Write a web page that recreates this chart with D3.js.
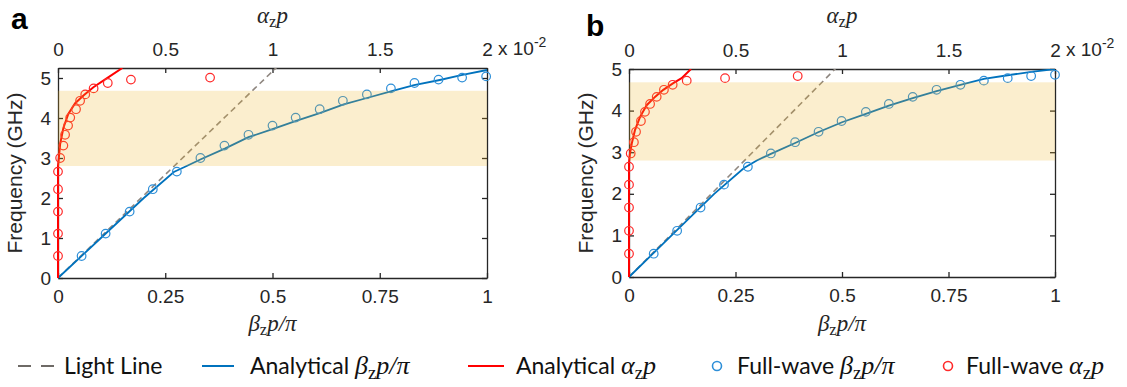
<!DOCTYPE html>
<meta charset="utf-8">
<style>
body { margin: 0; background: #fff; }
svg text { fill: #262626; }
.tick text { font-family: "Liberation Sans", Arial, sans-serif; font-size: 19px; fill: #262626; }
.domain, .tick line { stroke: #262626; stroke-width: 1.3px; }
.math { font-family: "Liberation Serif", "Times New Roman", serif; font-style: italic; }
.leg { font-family: Lato, "Noto Sans", sans-serif; font-size: 23px; fill: #111; }
</style>
<body>
<div id="chart"></div>
<script src="https://cdn.jsdelivr.net/npm/d3@7"></script>
<script>

// full-wave samples, panel a
var betaFWa  = [0.055, 0.111, 0.167, 0.221, 0.277, 0.332, 0.388, 0.444, 0.5, 0.554, 0.61, 0.664, 0.72, 0.776, 0.831, 0.887, 0.942, 0.998];
var freqFWa  = [0.55, 1.11, 1.66, 2.22, 2.66, 3.0, 3.31, 3.58, 3.81, 4.01, 4.22, 4.43, 4.59, 4.74, 4.875, 4.96, 5.01, 5.04];
var alphaFWa = [0, 0, 0, 0, 0, 0.01, 0.025, 0.033, 0.047, 0.057, 0.084, 0.103, 0.127, 0.166, 0.232, 0.34, 0.709];
// analytical, panel a
var betaAna  = [0, 0.1, 0.2, 0.27, 0.3, 0.333, 0.39, 0.444, 0.5, 0.555, 0.61, 0.666, 0.72, 0.78, 0.83, 0.89, 0.94, 1];
var freqAna  = [0, 1.0, 2.0, 2.65, 2.8, 2.97, 3.24, 3.52, 3.72, 3.93, 4.12, 4.34, 4.5, 4.68, 4.82, 4.95, 5.07, 5.2];
var alphaAna = [0, 0, 0.003, 0.01, 0.025, 0.048, 0.08, 0.12, 0.165, 0.227, 0.3];
var fAlphaAna = [0, 2.8, 2.95, 3.35, 3.75, 4.1, 4.37, 4.57, 4.77, 4.99, 5.25];

// full-wave samples, panel b
var betaFWb  = [0.058, 0.113, 0.168, 0.223, 0.279, 0.333, 0.39, 0.445, 0.499, 0.556, 0.61, 0.666, 0.722, 0.778, 0.833, 0.889, 0.944, 1.0];
var freqFWb  = [0.56, 1.11, 1.67, 2.22, 2.65, 2.97, 3.24, 3.49, 3.75, 3.97, 4.16, 4.33, 4.5, 4.62, 4.72, 4.78, 4.83, 4.86];
var alphaFWb = [0, 0, 0, 0, 0, 0.008, 0.023, 0.033, 0.056, 0.075, 0.099, 0.13, 0.164, 0.205, 0.271, 0.451, 0.792];
// analytical, panel b
var betaAnb  = [0, 0.1, 0.2, 0.27, 0.3, 0.333, 0.39, 0.444, 0.5, 0.556, 0.61, 0.666, 0.722, 0.778, 0.833, 0.889, 0.944, 1];
var freqAnb  = [0, 1.0, 2.0, 2.62, 2.8, 2.96, 3.22, 3.48, 3.72, 3.92, 4.12, 4.3, 4.47, 4.62, 4.76, 4.85, 4.93, 5.0];
var alphaAnb = [0, 0, 0.004, 0.013, 0.028, 0.052, 0.083, 0.122, 0.161, 0.208, 0.247, 0.291];
var fAlphaAnb = [0, 2.75, 2.95, 3.21, 3.53, 3.85, 4.13, 4.33, 4.5, 4.66, 4.78, 5.0];

// light line endpoints and stop band
var lightBeta = [0, 0.6];
var lightFreq = [0, 6.2];
var band = [2.8, 4.68];

var betaTicks = [0, 0.25, 0.5, 0.75, 1];
var alphaTicks = [0, 0.5, 1, 1.5, 2];
var freqTicks = [0, 1, 2, 3, 4, 5];

var BLUE = "#0072bd", BLUE_PT = "#2e8fd8", RED = "#ff0000", RED_PT = "#ff2a2a";

var svg = d3.select("#chart").append("svg")
    .attr("width", 1127)
    .attr("height", 387);

function zip(a, b) { return a.map(function(v, i) { return [v, b[i]]; }); }

function mathText(sel, parts, size) {
    // parts: [text, italic?, sub?, undoSub?]
    parts.forEach(function(p) {
        var t = sel.append("tspan").text(p[0]);
        if (p[1]) t.attr("class", "math").style("font-size", size + "px");
        else if (p[2]) t.style("font-family", "Liberation Serif, serif").style("font-style", "normal")
            .style("font-size", (size * 0.72) + "px").attr("dy", size * 0.18);
        if (p[3]) t.attr("dy", -size * 0.18);
    });
}

var BETA_LBL = [["β", 1], ["z", 0, 1], ["p", 1, 0, 1], ["/π", 1]];
var ALPHA_LBL = [["α", 1], ["z", 0, 1], ["p", 1, 0, 1]];

function drawPanel(c) {
    var x = d3.scaleLinear().domain([0, 1]).range([c.left, c.right]);
    var xa = d3.scaleLinear().domain([0, 2]).range([c.left, c.right]);
    var y = d3.scaleLinear().domain([0, c.ymax]).range([c.bottom, c.top]);

    // axes first, data goes over them
    var fmt = function(d) { return d; };
    svg.append("g").attr("transform", "translate(0," + c.bottom + ")")
        .call(d3.axisBottom(x).tickValues(betaTicks).tickSizeInner(-5).tickSizeOuter(0).tickPadding(12)
            .tickFormat(fmt));
    svg.append("g").attr("transform", "translate(0," + c.top + ")")
        .call(d3.axisTop(xa).tickValues(alphaTicks).tickSizeInner(-5).tickSizeOuter(0).tickPadding(12)
            .tickFormat(fmt));
    svg.append("g").attr("transform", "translate(" + c.left + ",0)")
        .call(d3.axisLeft(y).tickValues(freqTicks).tickSizeInner(-5).tickSizeOuter(0).tickPadding(7)
            .tickFormat(fmt));
    svg.append("g").attr("transform", "translate(" + c.right + ",0)")
        .call(d3.axisRight(y).tickValues(freqTicks).tickSizeInner(-5).tickSizeOuter(0)
            .tickFormat(""));

    var clipId = "clip" + c.name;
    svg.append("clipPath").attr("id", clipId).append("rect")
        .attr("x", c.left - 6).attr("y", c.top)
        .attr("width", c.right - c.left + 12).attr("height", c.bottom - c.top + 6);

    var g = svg.append("g").attr("clip-path", "url(#" + clipId + ")");
    var line = d3.line();

    g.append("path")
        .attr("d", line(zip(lightBeta, lightFreq).map(function(d) { return [x(d[0]), y(d[1])]; })))
        .attr("fill", "none").attr("stroke", "#8f8780").attr("stroke-width", 1.6)
        .attr("stroke-dasharray", "6,4");

    g.append("path")
        .attr("d", line(zip(c.betaAn, c.freqAn).map(function(d) { return [x(d[0]), y(d[1])]; })))
        .attr("fill", "none").attr("stroke", BLUE).attr("stroke-width", 1.8);

    g.append("path")
        .attr("d", line(zip(c.alphaAn, c.fAlphaAn).map(function(d) { return [xa(d[0]), y(d[1])]; })))
        .attr("fill", "none").attr("stroke", RED).attr("stroke-width", 2);

    g.selectAll("circle.b")
        .data(zip(c.betaFW, c.freqFW))
        .enter().append("circle")
        .attr("cx", function(d) { return x(d[0]); })
        .attr("cy", function(d) { return y(d[1]); })
        .attr("r", 4.3)
        .attr("fill", "none").attr("stroke", BLUE_PT).attr("stroke-width", 1.2);

    g.selectAll("circle.r")
        .data(zip(c.alphaFW, c.freqFW))
        .enter().append("circle")
        .attr("cx", function(d) { return xa(d[0]); })
        .attr("cy", function(d) { return y(d[1]); })
        .attr("r", 4.3)
        .attr("fill", "none").attr("stroke", RED_PT).attr("stroke-width", 1.2);

    // stop band, translucent over the curves
    svg.append("rect")
        .attr("x", c.left).attr("width", c.right - c.left)
        .attr("y", y(band[1])).attr("height", y(band[0]) - y(band[1]))
        .attr("fill", "#edb120").attr("fill-opacity", 0.22);

    // exponent after the last top tick
    var ex = svg.append("text")
        .attr("x", xa(2) + 11).attr("y", c.top - 13)
        .style("font-family", "Liberation Sans, Arial, sans-serif").style("font-size", "19px");
    ex.append("tspan").text("x 10");
    ex.append("tspan").text("-2").style("font-size", "14px").attr("dy", -8);

    var mid = (c.left + c.right) / 2;
    var t1 = svg.append("text").attr("x", mid).attr("y", 23).attr("text-anchor", "middle")
        .style("font-size", "23px");
    mathText(t1, ALPHA_LBL, 23);
    var t2 = svg.append("text").attr("x", mid).attr("y", 331).attr("text-anchor", "middle")
        .style("font-size", "23px");
    mathText(t2, BETA_LBL, 23);

    svg.append("text")
        .attr("transform", "translate(" + (c.left - 36) + "," + ((c.top + c.bottom) / 2) + ") rotate(-90)")
        .attr("text-anchor", "middle")
        .style("font-family", "Liberation Sans, Arial, sans-serif").style("font-size", "21px")
        .text("Frequency (GHz)");

    svg.append("text")
        .attr("x", c.labelX).attr("y", c.labelY)
        .style("font-family", "Liberation Sans, Arial, sans-serif").style("font-size", "30px")
        .style("font-weight", "bold").style("fill", "#000")
        .text(c.name);
}

drawPanel({
    name: "a", left: 58, right: 487, top: 68, bottom: 278, ymax: 5.25, labelX: 11, labelY: 29,
    betaFW: betaFWa, freqFW: freqFWa, alphaFW: alphaFWa,
    betaAn: betaAna, freqAn: freqAna, alphaAn: alphaAna, fAlphaAn: fAlphaAna
});
drawPanel({
    name: "b", left: 629, right: 1055, top: 69, bottom: 277, ymax: 5, labelX: 586, labelY: 36,
    betaFW: betaFWb, freqFW: freqFWb, alphaFW: alphaFWb,
    betaAn: betaAnb, freqAn: freqAnb, alphaAn: alphaAnb, fAlphaAn: fAlphaAnb
});

// legend
var ly = 366, lt = ly + 8, ms = 26;
var leg = svg.append("g");
leg.append("line").attr("x1", 18).attr("x2", 55).attr("y1", ly).attr("y2", ly)
    .attr("stroke", "#6e6a66").attr("stroke-width", 1.8).attr("stroke-dasharray", "13,10");
leg.append("text").attr("class", "leg").attr("x", 64).attr("y", lt).text("Light Line");

leg.append("line").attr("x1", 202).attr("x2", 234).attr("y1", ly).attr("y2", ly)
    .attr("stroke", BLUE).attr("stroke-width", 2);
var l2 = leg.append("text").attr("class", "leg").attr("x", 250).attr("y", lt);
l2.append("tspan").text("Analytical ");
mathText(l2, BETA_LBL, ms);

leg.append("line").attr("x1", 468).attr("x2", 504).attr("y1", ly).attr("y2", ly)
    .attr("stroke", RED).attr("stroke-width", 2);
var l3 = leg.append("text").attr("class", "leg").attr("x", 516).attr("y", lt);
l3.append("tspan").text("Analytical ");
mathText(l3, ALPHA_LBL, ms);

leg.append("circle").attr("cx", 717).attr("cy", ly).attr("r", 4.5)
    .attr("fill", "none").attr("stroke", BLUE_PT).attr("stroke-width", 1.6);
var l4 = leg.append("text").attr("class", "leg").attr("x", 737).attr("y", lt);
l4.append("tspan").text("Full-wave ");
mathText(l4, BETA_LBL, ms);

leg.append("circle").attr("cx", 948).attr("cy", ly).attr("r", 4.5)
    .attr("fill", "none").attr("stroke", RED_PT).attr("stroke-width", 1.6);
var l5 = leg.append("text").attr("class", "leg").attr("x", 966).attr("y", lt);
l5.append("tspan").text("Full-wave ");
mathText(l5, ALPHA_LBL, ms);

</script>
</body>
